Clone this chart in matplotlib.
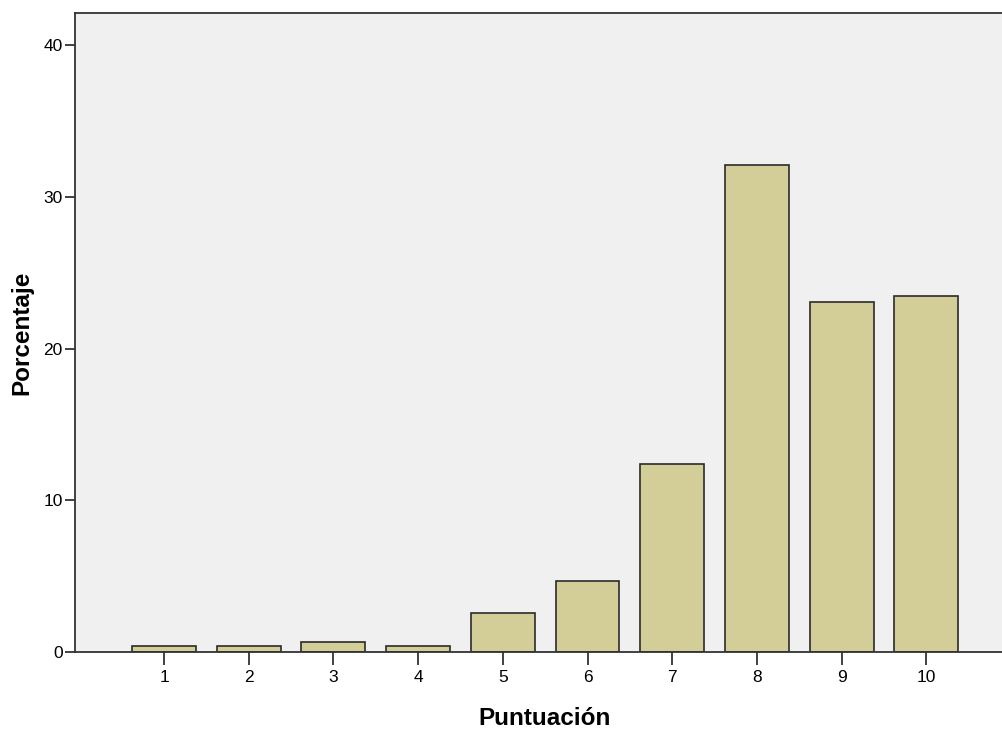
import matplotlib.pyplot as plt

plt.rcParams['font.family'] = ['Liberation Sans', 'DejaVu Sans']

# Puntuacion vs porcentaje
scores = [1, 2, 3, 4, 5, 6, 7, 8, 9, 10]
percent = [0.4, 0.4, 0.65, 0.4, 2.6, 4.7, 12.4, 32.1, 23.1, 23.5]
y_ticks = [0, 10, 20, 30, 40]

fig = plt.figure(figsize=(10.02, 7.33), dpi=100)
ax = fig.add_axes([0.0749, 0.1105, 0.9251, 0.8711])
ax.set_facecolor('#f0f0f0')

ax.bar(scores, percent, width=0.755, color='#d3ce97', edgecolor='#2b2b2b', linewidth=1.2)

ax.set_xlim(-0.051, 10.894)
ax.set_ylim(0, 42.1)
ax.set_xticks(scores)
ax.set_yticks(y_ticks)
ax.tick_params(axis='both', direction='out', width=1.3, color='#333333', labelsize=12.5)
ax.tick_params(axis='x', length=9, pad=4)
ax.tick_params(axis='y', length=7.5, pad=1.5)

ax.spines['right'].set_visible(False)
for side in ['left', 'top', 'bottom']:
    ax.spines[side].set_color('#333333')
    ax.spines[side].set_linewidth(1.3)

ax.set_xlabel('Puntuación', fontsize=17.5, fontweight='bold', labelpad=16)
ax.xaxis.label.set_x(0.507)  # label sits a bit right of centre in the original
ax.set_ylabel('Porcentaje', fontsize=17.5, fontweight='bold', labelpad=7)

fig.savefig('out.png', dpi=100)
